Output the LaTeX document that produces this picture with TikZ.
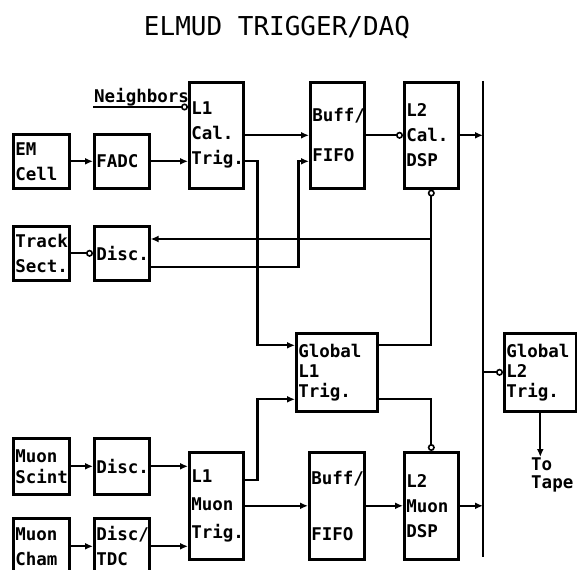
\documentclass[tikz,border=0pt]{standalone}
\usepackage{fontspec}
\setmonofont{DejaVu Sans Mono}
\usetikzlibrary{arrows.meta}

\newcommand\boxfont{\ttfamily\bfseries\fontsize{17.5}{25}\selectfont}

\begin{document}
\begin{tikzpicture}[
    x=1pt, y=-1pt,
    >={Latex[length=8pt,width=7pt]},
    blk/.style={draw,line width=2.6pt,anchor=north west,align=left,
                inner xsep=2pt,inner ysep=0pt,font=\boxfont,text width=#1},
    lnk/.style={->,line width=2.3pt},
    lnko/.style={-{Circle[open,length=7pt,line width=1.6pt]},line width=2.3pt},
    lab/.style={font=\boxfont,inner sep=1pt},
  ]
  \useasboundingbox (0,0) rectangle (577,569);
  \clip (0,0) rectangle (577,569);

  % -- title --
  \node[font=\ttfamily\fontsize{26}{30}\selectfont] (ttl) at (277,28)
       {ELMUD TRIGGER/DAQ};

  % -- calorimeter and tracking side --
  \node[blk=52pt,minimum height=54pt] (em) at (12,133) {EM\\Cell};
  \node[blk=51pt,minimum height=54pt] (fadc) at (93,133) {FADC};
  \node[blk=50pt,minimum height=106pt] (l1cal) at (188,81) {L1\\Cal.\\Trig.};
  \node[blk=50pt,minimum height=106pt] (bufc) at (309,81) {Buff/\\[15pt]FIFO};
  \node[blk=50pt,minimum height=106pt] (l2cal) at (403,81) {L2\\Cal.\\DSP};
  \node[blk=52pt,minimum height=54pt] (track) at (12,225) {Track\\Sect.};
  \node[blk=51pt,minimum height=54pt] (disct) at (93,225) {Disc.};
  \node[lab,anchor=south west] (nbr) at (93,107) {Neighbors};

  % -- global level 1 and level 2 --
  \node[blk=77pt,minimum height=78pt] (gl1) at (295,332)
       {Global\\[-5pt]L1\\[-5pt]Trig.};
  \node[blk=68pt,minimum height=78pt] (gl2) at (503,332)
       {Global\\[-5pt]L2\\[-5pt]Trig.};
  \node[lab,anchor=north west,align=left] (tape) at (530,457) {To\\[-7pt]Tape};

  % -- muon side --
  \node[blk=52pt,minimum height=56pt] (scint) at (12,437) {Muon\\[-4pt]Scint};
  \node[blk=51pt,minimum height=56pt] (discm) at (93,437) {Disc.};
  \node[blk=52pt,minimum height=56pt] (cham) at (12,517) {Muon\\Cham};
  \node[blk=51pt,minimum height=56pt] (tdc) at (93,517) {Disc/\\TDC};
  \node[blk=50pt,minimum height=107pt] (l1mu) at (188,451) {L1\\[3pt]Muon\\[3pt]Trig.};
  \node[blk=51pt,minimum height=107pt] (bufm) at (308,451) {Buff/\\[31pt]FIFO};
  \node[blk=50pt,minimum height=107pt] (l2mu) at (403,451) {L2\\Muon\\DSP};

  % -- data bus --
  \coordinate (bustop) at (483,81);
  \coordinate (busbot) at (483,557);
  \coordinate (gate) at (430,239);
  \draw[line width=1.6pt] (bustop) -- (busbot);

  % -- calorimeter links --
  \draw[lnk] (em) -- (fadc);
  \draw[lnk] (fadc) -- (fadc -| l1cal.west);
  \draw[lnko] (nbr.south west) -- (nbr.south west -| l1cal.west);
  \draw[lnk] (l1cal) -- (bufc);
  \draw[lnk] (l1cal.east |- fadc) -- ++(13,0) |- ([yshift=27pt]gl1.west);
  \draw[lnko] (bufc) -- (l2cal);
  \draw[lnk] (l2cal) -- (l2cal -| bustop);
  \draw[lnko] (track) -- (disct);
  \draw[lnk] ([yshift=-14pt]disct.east) -- ++(148,0) |- (bufc.west |- fadc);
  \draw[lnko] ([yshift=27pt]gl1.east) -| (l2cal.south);
  \draw[lnk] (gate) -- (gate -| disct.east);

  % -- muon links --
  \draw[lnk] (scint) -- (discm);
  \draw[lnk] (cham) -- (tdc);
  \draw[lnk] (discm) -- (discm -| l1mu.west);
  \draw[lnk] (tdc) -- (tdc -| l1mu.west);
  \draw[lnk] ([yshift=26pt]l1mu.east) -- ++(13,0) |- ([yshift=-27pt]gl1.west);
  \draw[lnk] (l1mu) -- (bufm);
  \draw[lnko] ([yshift=-27pt]gl1.east) -| (l2mu.north);
  \draw[lnk] (bufm) -- (l2mu);
  \draw[lnk] (l2mu) -- (l2mu -| busbot);

  % -- level 2 out --
  \draw[lnko] (gl2 -| bustop) -- (gl2);
  \draw[lnk] (gl2.south) -- (gl2.south |- tape.north);
\end{tikzpicture}
\end{document}
